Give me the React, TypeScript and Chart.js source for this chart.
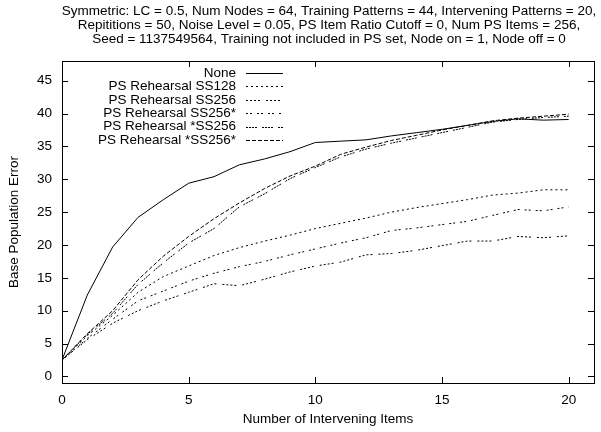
import React, { useEffect, useRef } from 'react';
import { Chart, registerables } from 'chart.js';

Chart.register(...registerables);

const xValues = [0, 1, 2, 3, 4, 5, 6, 7, 8, 9, 10, 11, 12, 13, 14, 15, 16, 17, 18, 19, 20];
const noneValues = [2.5, 12.4, 19.7, 24.2, 26.9, 29.4, 30.4, 32.2, 33.1, 34.2, 35.6, 35.8, 36.0, 36.6, 37.1, 37.6, 38.2, 38.8, 39.2, 39.0, 39.1];
const ss128Values = [2.5, 6.2, 9.3, 12.8, 15.2, 16.8, 18.4, 19.6, 20.6, 21.5, 22.5, 23.3, 24.1, 25.0, 25.7, 26.3, 26.9, 27.6, 27.9, 28.4, 28.4];
const ss256Values = [2.5, 5.6, 8.1, 10.0, 11.5, 12.8, 14.1, 13.8, 14.8, 15.9, 16.8, 17.4, 18.5, 18.7, 19.2, 19.9, 20.6, 20.6, 21.3, 21.1, 21.4];
const ss256StarValues = [2.5, 5.8, 8.7, 11.5, 13.0, 14.5, 15.7, 16.7, 17.5, 18.5, 19.4, 20.3, 21.1, 22.2, 22.6, 23.1, 23.6, 24.5, 25.4, 25.2, 25.8];
const starSs256Values = [2.5, 6.4, 9.6, 14.0, 17.3, 20.3, 22.5, 25.8, 27.8, 30.1, 31.8, 33.4, 34.6, 35.5, 36.3, 37.1, 37.9, 38.7, 39.1, 39.4, 39.6];
const starSs256StarValues = [2.5, 6.5, 10.0, 14.7, 18.3, 21.3, 24.0, 26.4, 28.6, 30.5, 32.0, 33.8, 34.9, 35.9, 36.7, 37.5, 38.2, 38.9, 39.3, 39.6, 39.9];

const seriesLabels = [
  'None',
  'PS Rehearsal SS128',
  'PS Rehearsal SS256',
  'PS Rehearsal SS256*',
  'PS Rehearsal *SS256',
  'PS Rehearsal *SS256*',
];

const yTickValues = [0, 5, 10, 15, 20, 25, 30, 35, 40, 45];
const xTickValues = [0, 5, 10, 15, 20];

const titleLines = [
  'Symmetric: LC = 0.5, Num Nodes = 64, Training Patterns = 44, Intervening Patterns = 20,',
  'Repititions = 50, Noise Level = 0.05, PS Item Ratio Cutoff = 0, Num PS Items = 256,',
  'Seed = 1137549564, Training not included in PS set, Node on = 1, Node off = 0',
];

const xTitle = 'Number of Intervening Items';
const yTitle = 'Base Population Error';

const FONT = '"Liberation Sans", Arial, Helvetica, sans-serif';
const FS = 13.5;

const dashes: number[][] = [[], [2, 3], [2, 2, 2, 2, 2, 2, 2, 6], [2, 2, 2, 5], [2, 1, 2, 1, 2, 1, 2, 5], [4, 2]];

const frameAndTextPlugin = {
  id: 'frameAndText',
  afterDraw(chart: any) {
    const { ctx, chartArea, scales } = chart;
    const { left, right, top, bottom } = chartArea;
    const x = scales.x;
    const y = scales.y;
    ctx.save();
    ctx.strokeStyle = '#000';
    ctx.lineWidth = 1;
    ctx.setLineDash([]);
    ctx.strokeRect(Math.round(left) + 0.5, Math.round(top) + 0.5, Math.round(right - left), Math.round(bottom - top));
    const tl = 6;
    ctx.beginPath();
    yTickValues.forEach((v) => {
      const py = Math.round(y.getPixelForValue(v)) + 0.5;
      ctx.moveTo(left, py);
      ctx.lineTo(left + tl, py);
      ctx.moveTo(right, py);
      ctx.lineTo(right - tl, py);
    });
    xTickValues.forEach((v) => {
      const px = Math.round(x.getPixelForValue(v)) + 0.5;
      ctx.moveTo(px, bottom);
      ctx.lineTo(px, bottom - tl);
      ctx.moveTo(px, top);
      ctx.lineTo(px, top + tl);
    });
    ctx.stroke();

    // title
    ctx.fillStyle = '#000';
    ctx.font = `${FS}px ${FONT}`;
    ctx.textAlign = 'center';
    ctx.textBaseline = 'middle';
    titleLines.forEach((t, i) => {
      ctx.fillText(t, 329, 11 + i * 14.2);
    });

    // legend
    const rowH = 13.4;
    chart.data.datasets.forEach((ds: any, i: number) => {
      const ly = 73 + i * rowH;
      ctx.textAlign = 'right';
      ctx.fillStyle = '#000';
      ctx.fillText(ds.label, 236, ly);
      ctx.beginPath();
      ctx.setLineDash(ds.borderDash || []);
      ctx.strokeStyle = ds.borderColor;
      ctx.lineWidth = ds.borderWidth;
      ctx.moveTo(246, Math.round(ly) + 0.5);
      ctx.lineTo(283, Math.round(ly) + 0.5);
      ctx.stroke();
    });
    ctx.restore();
  },
};

export default function App() {
  const canvasRef = useRef<HTMLCanvasElement | null>(null);

  useEffect(() => {
    const canvas = canvasRef.current;
    if (!canvas) return;
    const seriesValues = [noneValues, ss128Values, ss256Values, ss256StarValues, starSs256Values, starSs256StarValues];
    const chart = new Chart(canvas, {
      type: 'line',
      data: {
        labels: xValues,
        datasets: seriesLabels.map((label, i) => ({
          label,
          data: xValues.map((xv, j) => ({ x: xv, y: seriesValues[i][j] })),
          borderColor: '#000',
          borderWidth: 1,
          borderDash: dashes[i],
          pointRadius: 0,
          fill: false,
          tension: 0,
        })),
      },
      options: {
        responsive: false,
        animation: false,
        events: [],
        layout: { padding: { top: 61, right: 7, left: 0, bottom: 0 } },
        plugins: {
          legend: { display: false },
          title: { display: false },
          tooltip: { enabled: false },
        },
        scales: {
          x: {
            type: 'linear',
            min: 0,
            max: 21,
            grid: { display: false, drawTicks: false },
            border: { display: false },
            afterBuildTicks: (scale: any) => {
              scale.ticks = xTickValues.map((v) => ({ value: v }));
            },
            afterFit: (scale: any) => {
              scale.height = 49;
            },
            ticks: {
              color: '#000',
              font: { family: FONT, size: FS },
              padding: 9,
              maxRotation: 0,
              autoSkip: false,
            },
            title: {
              display: true,
              text: xTitle,
              color: '#000',
              font: { family: FONT, size: FS },
              padding: { top: 0, bottom: 5 },
            },
          },
          y: {
            type: 'linear',
            min: -1,
            max: 48,
            grid: { display: false, drawTicks: false },
            border: { display: false },
            afterBuildTicks: (scale: any) => {
              scale.ticks = yTickValues.map((v) => ({ value: v }));
            },
            afterFit: (scale: any) => {
              scale.width = 62;
            },
            ticks: {
              color: '#000',
              font: { family: FONT, size: FS },
              padding: 10,
              autoSkip: false,
            },
            title: {
              display: true,
              text: yTitle,
              color: '#000',
              font: { family: FONT, size: FS },
              padding: { top: 6, bottom: 0 },
            },
          },
        },
      },
      plugins: [frameAndTextPlugin],
    });
    return () => chart.destroy();
  }, []);

  return (
    <div style={{ position: 'fixed', left: 0, top: 0, width: 601, height: 432, background: '#fff' }}>
      <canvas ref={canvasRef} width={601} height={432} style={{ display: 'block' }} />
    </div>
  );
}
